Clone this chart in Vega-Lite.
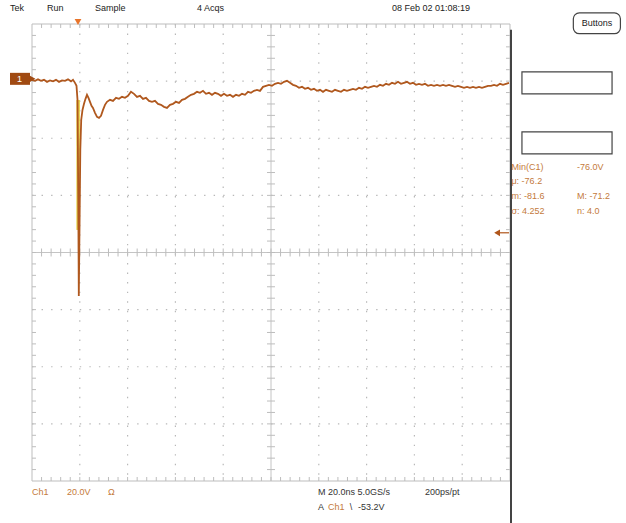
{
  "$schema": "https://vega.github.io/schema/vega-lite/v6.json",
  "width": 478,
  "height": 457,
  "autosize": {"type": "none"},
  "padding": {"left": 32, "top": 24, "right": 116, "bottom": 42},
  "background": "white",
  "config": {"view": {"stroke": null}, "text": {"font": "Liberation Sans", "fontSize": 9}},
  "datasets": {
    "trace": [
      {"t": 0, "v": -0.35}, {"t": 1.26, "v": -0.7}, {"t": 2.51, "v": -0.18}, {"t": 3.77, "v": -0.7}, {"t": 5.02, "v": -0.35},
      {"t": 6.28, "v": -1.05}, {"t": 7.53, "v": -0.53}, {"t": 8.79, "v": -0.88}, {"t": 10.04, "v": -0.35}, {"t": 11.3, "v": -1.05},
      {"t": 12.55, "v": -0.53}, {"t": 13.81, "v": -0.7}, {"t": 15.06, "v": -0.18}, {"t": 16.32, "v": -0.88}, {"t": 17.15, "v": -0.35},
      {"t": 17.99, "v": -1.4}, {"t": 18.62, "v": -2.45}, {"t": 19.04, "v": -7.36}, {"t": 19.37, "v": -42.4}, {"t": 19.58, "v": -76.0},
      {"t": 19.87, "v": -52.9}, {"t": 20.21, "v": -24.9}, {"t": 20.59, "v": -14.4}, {"t": 21.13, "v": -10.9}, {"t": 21.76, "v": -8.76},
      {"t": 22.39, "v": -7.01}, {"t": 23.01, "v": -5.6}, {"t": 23.64, "v": -6.66}, {"t": 24.27, "v": -8.06}, {"t": 24.9, "v": -9.46},
      {"t": 25.52, "v": -10.16}, {"t": 26.36, "v": -11.91}, {"t": 27.2, "v": -13.31}, {"t": 28.03, "v": -13.66}, {"t": 28.87, "v": -12.96},
      {"t": 29.71, "v": -10.86}, {"t": 30.54, "v": -9.11}, {"t": 31.38, "v": -8.06}, {"t": 32.64, "v": -7.36}, {"t": 33.89, "v": -7.71},
      {"t": 35.15, "v": -6.66}, {"t": 36.4, "v": -7.01}, {"t": 37.66, "v": -6.31}, {"t": 38.91, "v": -6.66}, {"t": 40.17, "v": -5.96},
      {"t": 41.42, "v": -4.55}, {"t": 42.68, "v": -5.25}, {"t": 43.93, "v": -6.31}, {"t": 45.19, "v": -5.96}, {"t": 46.44, "v": -7.01},
      {"t": 47.7, "v": -6.66}, {"t": 48.95, "v": -7.71}, {"t": 50.21, "v": -8.06}, {"t": 51.46, "v": -7.71}, {"t": 52.72, "v": -8.76},
      {"t": 53.97, "v": -9.11}, {"t": 55.23, "v": -9.81}, {"t": 56.48, "v": -10.16}, {"t": 57.74, "v": -9.11}, {"t": 58.99, "v": -8.76},
      {"t": 60.25, "v": -8.06}, {"t": 61.51, "v": -8.41}, {"t": 62.76, "v": -7.36}, {"t": 64.02, "v": -7.01}, {"t": 65.27, "v": -6.31},
      {"t": 66.53, "v": -5.6}, {"t": 67.78, "v": -5.25}, {"t": 69.04, "v": -4.55}, {"t": 70.29, "v": -4.9}, {"t": 71.55, "v": -4.2},
      {"t": 72.8, "v": -5.25}, {"t": 74.06, "v": -4.9}, {"t": 75.31, "v": -5.6}, {"t": 76.57, "v": -4.9}, {"t": 77.82, "v": -5.25},
      {"t": 79.08, "v": -5.96}, {"t": 80.33, "v": -5.25}, {"t": 81.59, "v": -5.96}, {"t": 82.85, "v": -5.6}, {"t": 84.1, "v": -6.31},
      {"t": 85.36, "v": -5.6}, {"t": 86.61, "v": -5.96}, {"t": 87.87, "v": -5.25}, {"t": 89.12, "v": -5.6}, {"t": 90.38, "v": -4.55},
      {"t": 91.63, "v": -4.9}, {"t": 92.89, "v": -4.2}, {"t": 94.14, "v": -3.85}, {"t": 95.4, "v": -4.2}, {"t": 96.65, "v": -2.8},
      {"t": 97.91, "v": -2.45}, {"t": 99.16, "v": -2.1}, {"t": 100.42, "v": -2.45}, {"t": 101.67, "v": -1.75}, {"t": 102.93, "v": -1.4},
      {"t": 104.18, "v": -1.75}, {"t": 105.44, "v": -1.05}, {"t": 106.69, "v": -0.7}, {"t": 107.95, "v": -1.4}, {"t": 109.2, "v": -2.1},
      {"t": 110.46, "v": -2.45}, {"t": 111.72, "v": -3.15}, {"t": 112.97, "v": -2.8}, {"t": 114.23, "v": -3.5}, {"t": 115.48, "v": -3.15},
      {"t": 116.74, "v": -3.85}, {"t": 117.99, "v": -3.5}, {"t": 119.25, "v": -4.2}, {"t": 120.5, "v": -3.85}, {"t": 121.76, "v": -4.55},
      {"t": 123.01, "v": -3.85}, {"t": 124.27, "v": -4.2}, {"t": 125.52, "v": -4.55}, {"t": 126.78, "v": -3.85}, {"t": 128.03, "v": -4.2},
      {"t": 129.29, "v": -4.55}, {"t": 130.54, "v": -3.85}, {"t": 131.8, "v": -4.2}, {"t": 133.05, "v": -3.85}, {"t": 134.31, "v": -3.5},
      {"t": 135.56, "v": -3.85}, {"t": 136.82, "v": -3.15}, {"t": 138.08, "v": -3.5}, {"t": 139.33, "v": -2.8}, {"t": 140.59, "v": -3.15},
      {"t": 141.84, "v": -2.8}, {"t": 143.1, "v": -2.45}, {"t": 144.35, "v": -2.8}, {"t": 145.61, "v": -2.1}, {"t": 146.86, "v": -2.45},
      {"t": 148.12, "v": -1.75}, {"t": 149.37, "v": -2.1}, {"t": 150.63, "v": -1.4}, {"t": 151.88, "v": -1.75}, {"t": 153.14, "v": -1.05},
      {"t": 154.39, "v": -1.75}, {"t": 155.65, "v": -1.4}, {"t": 156.9, "v": -1.05}, {"t": 158.16, "v": -1.75}, {"t": 159.41, "v": -1.4},
      {"t": 160.67, "v": -2.1}, {"t": 161.92, "v": -1.75}, {"t": 163.18, "v": -2.1}, {"t": 164.44, "v": -1.75}, {"t": 165.69, "v": -2.45},
      {"t": 166.95, "v": -2.1}, {"t": 168.2, "v": -2.45}, {"t": 169.46, "v": -2.1}, {"t": 170.71, "v": -2.45}, {"t": 171.97, "v": -2.1},
      {"t": 173.22, "v": -2.45}, {"t": 174.48, "v": -2.1}, {"t": 175.73, "v": -2.45}, {"t": 176.99, "v": -2.8}, {"t": 178.24, "v": -2.45},
      {"t": 179.5, "v": -2.8}, {"t": 180.75, "v": -3.15}, {"t": 182.01, "v": -2.8}, {"t": 183.26, "v": -3.15}, {"t": 184.52, "v": -2.8},
      {"t": 185.77, "v": -3.15}, {"t": 187.03, "v": -2.8}, {"t": 188.28, "v": -3.15}, {"t": 189.54, "v": -2.8}, {"t": 190.79, "v": -2.45},
      {"t": 192.05, "v": -2.45}, {"t": 193.31, "v": -2.1}, {"t": 194.56, "v": -2.45}, {"t": 195.82, "v": -1.75}, {"t": 197.07, "v": -2.1},
      {"t": 198.33, "v": -1.75}, {"t": 199.58, "v": -1.4}
    ],
    "xt": [
      {"t": 4}, {"t": 8}, {"t": 12}, {"t": 16}, {"t": 20}, {"t": 24}, {"t": 28}, {"t": 32}, {"t": 36}, {"t": 40},
      {"t": 44}, {"t": 48}, {"t": 52}, {"t": 56}, {"t": 60}, {"t": 64}, {"t": 68}, {"t": 72}, {"t": 76}, {"t": 80},
      {"t": 84}, {"t": 88}, {"t": 92}, {"t": 96}, {"t": 100}, {"t": 104}, {"t": 108}, {"t": 112}, {"t": 116}, {"t": 120},
      {"t": 124}, {"t": 128}, {"t": 132}, {"t": 136}, {"t": 140}, {"t": 144}, {"t": 148}, {"t": 152}, {"t": 156}, {"t": 160},
      {"t": 164}, {"t": 168}, {"t": 172}, {"t": 176}, {"t": 180}, {"t": 184}, {"t": 188}, {"t": 192}, {"t": 196}
    ],
    "yt": [
      {"v": 15.2}, {"v": 11.2}, {"v": 7.2}, {"v": 3.2}, {"v": -0.8}, {"v": -4.8}, {"v": -8.8}, {"v": -12.8}, {"v": -16.8}, {"v": -20.8},
      {"v": -24.8}, {"v": -28.8}, {"v": -32.8}, {"v": -36.8}, {"v": -40.8}, {"v": -44.8}, {"v": -48.8}, {"v": -52.8}, {"v": -56.8}, {"v": -60.8},
      {"v": -64.8}, {"v": -68.8}, {"v": -72.8}, {"v": -76.8}, {"v": -80.8}, {"v": -84.8}, {"v": -88.8}, {"v": -92.8}, {"v": -96.8}, {"v": -100.8},
      {"v": -104.8}, {"v": -108.8}, {"v": -112.8}, {"v": -116.8}, {"v": -120.8}, {"v": -124.8}, {"v": -128.8}, {"v": -132.8}, {"v": -136.8}
    ],
    "dotted": [
      {"t": 20, "v": 19.2, "t2": 20, "v2": -140.8}, {"t": 40, "v": 19.2, "t2": 40, "v2": -140.8},
      {"t": 60, "v": 19.2, "t2": 60, "v2": -140.8}, {"t": 80, "v": 19.2, "t2": 80, "v2": -140.8},
      {"t": 120, "v": 19.2, "t2": 120, "v2": -140.8}, {"t": 140, "v": 19.2, "t2": 140, "v2": -140.8},
      {"t": 160, "v": 19.2, "t2": 160, "v2": -140.8}, {"t": 180, "v": 19.2, "t2": 180, "v2": -140.8},
      {"t": 0, "v": -0.8, "t2": 200, "v2": -0.8}, {"t": 0, "v": -20.8, "t2": 200, "v2": -20.8},
      {"t": 0, "v": -40.8, "t2": 200, "v2": -40.8}, {"t": 0, "v": -80.8, "t2": 200, "v2": -80.8},
      {"t": 0, "v": -100.8, "t2": 200, "v2": -100.8}, {"t": 0, "v": -120.8, "t2": 200, "v2": -120.8}
    ],
    "solid": [
      {"t": 100, "v": 19.2, "t2": 100, "v2": -140.8},
      {"t": 0, "v": -60.8, "t2": 200, "v2": -60.8}
    ],
    "frame": [{"t": 0, "t2": 200, "v": 19.2, "v2": -140.8}],
    "boxes": [
      {"t": 205.0, "t2": 242.7, "v": 2.45, "v2": -5.25},
      {"t": 205.0, "t2": 242.7, "v": -18.57, "v2": -26.27}
    ],
    "btn": [{"t": 226.5, "t2": 246.2, "v": 23.1, "v2": 15.8}],
    "chbox": [{"t": -9.2, "t2": -0.84, "v": 2.1, "v2": -2.1}],
    "darkline": [{"t": 200.42, "v": 17.16, "t2": 200.42, "v2": -155.5}],
    "yellow": [{"t": 19.3, "v": -7.4, "t2": 19.3, "v2": -52.9}],
    "trigarrow": [{"t": 195.4, "v": -53.9, "t2": 199.6, "v2": -53.9}],
    "symbols": [
      {"t": 19.25, "v": 19.9, "shape": "triangle-down", "color": "#e8742a"},
      {"t": 0.2, "v": 0, "shape": "triangle-right", "color": "#a04a12"},
      {"t": 194.6, "v": -53.9, "shape": "triangle-left", "color": "#b0561b"}
    ],
    "labels": [
      {"t": -9.2, "v": 24.87, "label": "Tek", "color": "#222222"},
      {"t": 6.28, "v": 24.87, "label": "Run", "color": "#222222"},
      {"t": 26.36, "v": 24.87, "label": "Sample", "color": "#222222"},
      {"t": 69.04, "v": 24.87, "label": "4 Acqs", "color": "#222222"},
      {"t": 150.6, "v": 24.87, "label": "08 Feb 02 01:08:19", "color": "#222222"},
      {"t": 200.6, "v": -30.83, "label": "Min(C1)", "color": "#c47a3c"},
      {"t": 228.03, "v": -30.83, "label": "-76.0V", "color": "#c47a3c"},
      {"t": 200.6, "v": -35.73, "label": "μ: -76.2", "color": "#c47a3c"},
      {"t": 200.6, "v": -40.99, "label": "m: -81.6", "color": "#c47a3c"},
      {"t": 228.03, "v": -40.99, "label": "M: -71.2", "color": "#c47a3c"},
      {"t": 200.6, "v": -46.24, "label": "σ: 4.252", "color": "#c47a3c"},
      {"t": 228.03, "v": -46.24, "label": "n: 4.0", "color": "#c47a3c"},
      {"t": 0, "v": -144.67, "label": "Ch1", "color": "#c47a3c"},
      {"t": 14.64, "v": -144.67, "label": "20.0V", "color": "#c47a3c"},
      {"t": 31.8, "v": -144.67, "label": "Ω", "color": "#c47a3c"},
      {"t": 119.67, "v": -144.67, "label": "M 20.0ns 5.0GS/s", "color": "#333333"},
      {"t": 164.44, "v": -144.67, "label": "200ps/pt", "color": "#333333"},
      {"t": 119.67, "v": -149.92, "label": "A", "color": "#333333"},
      {"t": 123.85, "v": -149.92, "label": "Ch1", "color": "#c47a3c"},
      {"t": 133.0, "v": -149.92, "label": "\\", "color": "#333333"},
      {"t": 136.4, "v": -149.92, "label": "-53.2V", "color": "#333333"}
    ],
    "clabels": [
      {"t": 236.4, "v": 19.5, "label": "Buttons", "color": "#222222", "weight": "normal"},
      {"t": -5.2, "v": 0, "label": "1", "color": "#ffffff", "weight": "bold"}
    ]
  },
  "layer": [
    {
      "data": {"name": "frame"},
      "mark": {"type": "rect", "fill": "white", "stroke": "#bdbdbd", "strokeWidth": 1},
      "encoding": {
        "x": {"field": "t", "type": "quantitative", "scale": {"domain": [0, 200], "nice": false, "zero": false}, "axis": null},
        "x2": {"field": "t2"},
        "y": {"field": "v", "type": "quantitative", "scale": {"domain": [-140.8, 19.2], "nice": false, "zero": false}, "axis": null},
        "y2": {"field": "v2"}
      }
    },
    {
      "data": {"name": "dotted"},
      "mark": {"type": "rule", "stroke": "#b8b8b8", "strokeWidth": 1.2, "strokeDash": [1.4, 8.16]},
      "encoding": {
        "x": {"field": "t", "type": "quantitative", "scale": {"domain": [0, 200], "nice": false, "zero": false}, "axis": null},
        "x2": {"field": "t2"},
        "y": {"field": "v", "type": "quantitative", "scale": {"domain": [-140.8, 19.2], "nice": false, "zero": false}, "axis": null},
        "y2": {"field": "v2"}
      }
    },
    {
      "data": {"name": "solid"},
      "mark": {"type": "rule", "stroke": "#c4c4c4", "strokeWidth": 1},
      "encoding": {
        "x": {"field": "t", "type": "quantitative", "scale": {"domain": [0, 200], "nice": false, "zero": false}, "axis": null},
        "x2": {"field": "t2"},
        "y": {"field": "v", "type": "quantitative", "scale": {"domain": [-140.8, 19.2], "nice": false, "zero": false}, "axis": null},
        "y2": {"field": "v2"}
      }
    },
    {
      "data": {"name": "xt"},
      "mark": {"type": "rule", "stroke": "#bdbdbd", "strokeWidth": 1},
      "encoding": {
        "x": {"field": "t", "type": "quantitative", "scale": {"domain": [0, 200], "nice": false, "zero": false}, "axis": null},
        "y": {"datum": 19.2, "type": "quantitative", "scale": {"domain": [-140.8, 19.2], "nice": false, "zero": false}, "axis": null},
        "y2": {"datum": 17.8}
      }
    },
    {
      "data": {"name": "xt"},
      "mark": {"type": "rule", "stroke": "#bdbdbd", "strokeWidth": 1},
      "encoding": {
        "x": {"field": "t", "type": "quantitative", "scale": {"domain": [0, 200], "nice": false, "zero": false}, "axis": null},
        "y": {"datum": -140.8, "type": "quantitative", "scale": {"domain": [-140.8, 19.2], "nice": false, "zero": false}, "axis": null},
        "y2": {"datum": -139.4}
      }
    },
    {
      "data": {"name": "xt"},
      "mark": {"type": "rule", "stroke": "#bdbdbd", "strokeWidth": 1},
      "encoding": {
        "x": {"field": "t", "type": "quantitative", "scale": {"domain": [0, 200], "nice": false, "zero": false}, "axis": null},
        "y": {"datum": -59.4, "type": "quantitative", "scale": {"domain": [-140.8, 19.2], "nice": false, "zero": false}, "axis": null},
        "y2": {"datum": -62.2}
      }
    },
    {
      "data": {"name": "yt"},
      "mark": {"type": "rule", "stroke": "#bdbdbd", "strokeWidth": 1},
      "encoding": {
        "y": {"field": "v", "type": "quantitative", "scale": {"domain": [-140.8, 19.2], "nice": false, "zero": false}, "axis": null},
        "x": {"datum": 0, "type": "quantitative", "scale": {"domain": [0, 200], "nice": false, "zero": false}, "axis": null},
        "x2": {"datum": 1.67}
      }
    },
    {
      "data": {"name": "yt"},
      "mark": {"type": "rule", "stroke": "#bdbdbd", "strokeWidth": 1},
      "encoding": {
        "y": {"field": "v", "type": "quantitative", "scale": {"domain": [-140.8, 19.2], "nice": false, "zero": false}, "axis": null},
        "x": {"datum": 198.33, "type": "quantitative", "scale": {"domain": [0, 200], "nice": false, "zero": false}, "axis": null},
        "x2": {"datum": 200}
      }
    },
    {
      "data": {"name": "yt"},
      "mark": {"type": "rule", "stroke": "#bdbdbd", "strokeWidth": 1},
      "encoding": {
        "y": {"field": "v", "type": "quantitative", "scale": {"domain": [-140.8, 19.2], "nice": false, "zero": false}, "axis": null},
        "x": {"datum": 98.33, "type": "quantitative", "scale": {"domain": [0, 200], "nice": false, "zero": false}, "axis": null},
        "x2": {"datum": 101.67}
      }
    },
    {
      "data": {"name": "yellow"},
      "mark": {"type": "rule", "stroke": "#e6d245", "strokeWidth": 3.5},
      "encoding": {
        "x": {"field": "t", "type": "quantitative", "scale": {"domain": [0, 200], "nice": false, "zero": false}, "axis": null},
        "x2": {"field": "t2"},
        "y": {"field": "v", "type": "quantitative", "scale": {"domain": [-140.8, 19.2], "nice": false, "zero": false}, "axis": null},
        "y2": {"field": "v2"}
      }
    },
    {
      "data": {"name": "trace"},
      "mark": {"type": "line", "stroke": "#b0581e", "strokeWidth": 1.8},
      "encoding": {
        "x": {"field": "t", "type": "quantitative", "scale": {"domain": [0, 200], "nice": false, "zero": false}, "axis": null},
        "y": {"field": "v", "type": "quantitative", "scale": {"domain": [-140.8, 19.2], "nice": false, "zero": false}, "axis": null}
      }
    },
    {
      "data": {"name": "darkline"},
      "mark": {"type": "rule", "stroke": "#444444", "strokeWidth": 2},
      "encoding": {
        "x": {"field": "t", "type": "quantitative", "scale": {"domain": [0, 200], "nice": false, "zero": false}, "axis": null},
        "x2": {"field": "t2"},
        "y": {"field": "v", "type": "quantitative", "scale": {"domain": [-140.8, 19.2], "nice": false, "zero": false}, "axis": null},
        "y2": {"field": "v2"}
      }
    },
    {
      "data": {"name": "trigarrow"},
      "mark": {"type": "rule", "stroke": "#b0561b", "strokeWidth": 1.2},
      "encoding": {
        "x": {"field": "t", "type": "quantitative", "scale": {"domain": [0, 200], "nice": false, "zero": false}, "axis": null},
        "x2": {"field": "t2"},
        "y": {"field": "v", "type": "quantitative", "scale": {"domain": [-140.8, 19.2], "nice": false, "zero": false}, "axis": null},
        "y2": {"field": "v2"}
      }
    },
    {
      "data": {"name": "boxes"},
      "mark": {"type": "rect", "fill": "white", "stroke": "#444444", "strokeWidth": 1.2},
      "encoding": {
        "x": {"field": "t", "type": "quantitative", "scale": {"domain": [0, 200], "nice": false, "zero": false}, "axis": null},
        "x2": {"field": "t2"},
        "y": {"field": "v", "type": "quantitative", "scale": {"domain": [-140.8, 19.2], "nice": false, "zero": false}, "axis": null},
        "y2": {"field": "v2"}
      }
    },
    {
      "data": {"name": "btn"},
      "mark": {"type": "rect", "fill": "white", "stroke": "#444444", "strokeWidth": 1.2, "cornerRadius": 6},
      "encoding": {
        "x": {"field": "t", "type": "quantitative", "scale": {"domain": [0, 200], "nice": false, "zero": false}, "axis": null},
        "x2": {"field": "t2"},
        "y": {"field": "v", "type": "quantitative", "scale": {"domain": [-140.8, 19.2], "nice": false, "zero": false}, "axis": null},
        "y2": {"field": "v2"}
      }
    },
    {
      "data": {"name": "chbox"},
      "mark": {"type": "rect", "fill": "#a04a12"},
      "encoding": {
        "x": {"field": "t", "type": "quantitative", "scale": {"domain": [0, 200], "nice": false, "zero": false}, "axis": null},
        "x2": {"field": "t2"},
        "y": {"field": "v", "type": "quantitative", "scale": {"domain": [-140.8, 19.2], "nice": false, "zero": false}, "axis": null},
        "y2": {"field": "v2"}
      }
    },
    {
      "data": {"name": "symbols"},
      "mark": {"type": "point", "filled": true, "size": 45, "opacity": 1},
      "encoding": {
        "x": {"field": "t", "type": "quantitative", "scale": {"domain": [0, 200], "nice": false, "zero": false}, "axis": null},
        "y": {"field": "v", "type": "quantitative", "scale": {"domain": [-140.8, 19.2], "nice": false, "zero": false}, "axis": null},
        "shape": {"field": "shape", "type": "nominal", "scale": null},
        "color": {"field": "color", "type": "nominal", "scale": null}
      }
    },
    {
      "data": {"name": "labels"},
      "mark": {"type": "text", "align": "left", "baseline": "middle", "fontSize": 9},
      "encoding": {
        "x": {"field": "t", "type": "quantitative", "scale": {"domain": [0, 200], "nice": false, "zero": false}, "axis": null},
        "y": {"field": "v", "type": "quantitative", "scale": {"domain": [-140.8, 19.2], "nice": false, "zero": false}, "axis": null},
        "text": {"field": "label"},
        "color": {"field": "color", "type": "nominal", "scale": null}
      }
    },
    {
      "data": {"name": "clabels"},
      "mark": {"type": "text", "align": "center", "baseline": "middle", "fontSize": 9},
      "encoding": {
        "x": {"field": "t", "type": "quantitative", "scale": {"domain": [0, 200], "nice": false, "zero": false}, "axis": null},
        "y": {"field": "v", "type": "quantitative", "scale": {"domain": [-140.8, 19.2], "nice": false, "zero": false}, "axis": null},
        "text": {"field": "label"},
        "color": {"field": "color", "type": "nominal", "scale": null},
        "fontWeight": {"field": "weight", "type": "nominal", "scale": null}
      }
    }
  ]
}
